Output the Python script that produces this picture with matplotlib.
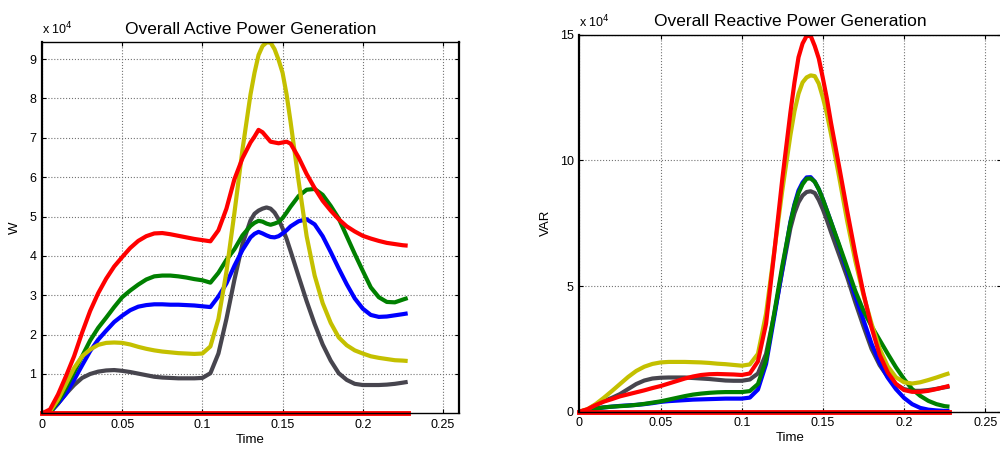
import numpy as np
import matplotlib
matplotlib.use('Agg')
import matplotlib.pyplot as plt
from matplotlib.ticker import FuncFormatter

plt.rcParams['font.family'] = ['Liberation Sans', 'DejaVu Sans']

# simulation time, s (finer around the peaks)
t = np.array([0, 0.005, 0.01, 0.015, 0.02, 0.025, 0.03, 0.035, 0.04, 0.045,
              0.05, 0.055, 0.06, 0.065, 0.07, 0.075, 0.08, 0.085, 0.09, 0.095,
              0.1, 0.105, 0.11, 0.115, 0.12, 0.125, 0.13, 0.1325, 0.135, 0.1375,
              0.14, 0.1425, 0.145, 0.1475, 0.15, 0.1525, 0.155, 0.16, 0.165, 0.17,
              0.175, 0.18, 0.185, 0.19, 0.195, 0.2, 0.205, 0.21, 0.215, 0.22,
              0.225, 0.228])

# active power per generator, x 1e4 W
p_red = [0, 0.1, 0.48, 0.95, 1.45, 2.05, 2.6, 3.05, 3.42, 3.73,
         3.97, 4.2, 4.38, 4.5, 4.57, 4.58, 4.55, 4.51, 4.47, 4.43,
         4.4, 4.37, 4.65, 5.2, 5.95, 6.48, 6.88, 7.03, 7.2, 7.14,
         7.02, 6.9, 6.88, 6.86, 6.88, 6.9, 6.85, 6.5, 6.08, 5.72,
         5.4, 5.15, 4.93, 4.75, 4.62, 4.51, 4.44, 4.38, 4.33, 4.3,
         4.27, 4.26]
p_green = [0, 0.02, 0.3, 0.65, 1.05, 1.45, 1.85, 2.17, 2.43, 2.7,
           2.95, 3.12, 3.27, 3.4, 3.48, 3.5, 3.5, 3.48, 3.45, 3.41,
           3.38, 3.32, 3.57, 3.9, 4.17, 4.52, 4.76, 4.84, 4.89, 4.87,
           4.82, 4.79, 4.82, 4.86, 4.96, 5.1, 5.25, 5.52, 5.68, 5.7,
           5.55, 5.27, 4.95, 4.5, 4.05, 3.62, 3.2, 2.95, 2.83, 2.82,
           2.89, 2.93]
p_blue = [0, 0.02, 0.25, 0.5, 0.85, 1.22, 1.58, 1.87, 2.1, 2.32,
          2.48, 2.62, 2.71, 2.75, 2.77, 2.77, 2.76, 2.76, 2.75, 2.74,
          2.72, 2.7, 2.97, 3.3, 3.75, 4.15, 4.47, 4.56, 4.61, 4.57,
          4.52, 4.48, 4.47, 4.5, 4.57, 4.65, 4.75, 4.88, 4.93, 4.8,
          4.5, 4.1, 3.68, 3.28, 2.92, 2.66, 2.5, 2.45, 2.46, 2.49,
          2.52, 2.54]
p_yellow = [0, 0.05, 0.35, 0.75, 1.15, 1.45, 1.62, 1.74, 1.79, 1.8,
            1.79, 1.75, 1.69, 1.64, 1.6, 1.57, 1.55, 1.53, 1.52, 1.51,
            1.52, 1.7, 2.4, 3.6, 5.1, 6.7, 8.1, 8.65, 9.1, 9.33,
            9.42, 9.42, 9.25, 8.98, 8.65, 8.1, 7.4, 5.9, 4.5, 3.5,
            2.8, 2.3, 1.93, 1.73, 1.6, 1.52, 1.45, 1.41, 1.38, 1.35,
            1.34, 1.33]
p_dark = [0, 0.03, 0.25, 0.5, 0.72, 0.9, 1.0, 1.06, 1.09, 1.1,
          1.08, 1.05, 1.01, 0.97, 0.93, 0.91, 0.9, 0.89, 0.89, 0.89,
          0.9, 1.02, 1.52, 2.4, 3.4, 4.3, 4.9, 5.07, 5.15, 5.2,
          5.23, 5.2, 5.1, 4.93, 4.7, 4.43, 4.12, 3.48, 2.85, 2.27,
          1.75, 1.34, 1.02, 0.85, 0.75, 0.72, 0.72, 0.72, 0.73, 0.75,
          0.78, 0.8]

# reactive power per generator, x 1e4 VAR
q_red = [0, 0.1, 0.26, 0.4, 0.5, 0.61, 0.69, 0.77, 0.85, 0.94,
         1.02, 1.12, 1.22, 1.32, 1.4, 1.46, 1.49, 1.5, 1.49, 1.48,
         1.46, 1.52, 2.0, 3.5, 6.3, 9.25, 11.9, 13.1, 14.1, 14.65,
         14.95, 14.95, 14.55, 14.05, 13.27, 12.45, 11.5, 9.76, 7.98, 6.28,
         4.72, 3.35, 2.26, 1.56, 1.11, 0.86, 0.79, 0.79, 0.83, 0.9,
         0.98, 1.03]
q_green = [0, 0.05, 0.13, 0.17, 0.2, 0.22, 0.24, 0.27, 0.31, 0.36,
           0.41, 0.48, 0.55, 0.62, 0.68, 0.72, 0.75, 0.77, 0.78, 0.78,
           0.78, 0.82, 1.1, 2.05, 3.9, 5.8, 7.5, 8.2, 8.7, 9.05,
           9.27, 9.28, 9.15, 8.85, 8.45, 8.0, 7.55, 6.65, 5.73, 4.8,
           4.02, 3.4, 2.85, 2.3, 1.77, 1.3, 0.9, 0.63, 0.43, 0.3,
           0.22, 0.2]
q_blue = [0, 0.05, 0.12, 0.17, 0.2, 0.23, 0.25, 0.27, 0.3, 0.34,
          0.39, 0.42, 0.44, 0.46, 0.48, 0.49, 0.5, 0.51, 0.52, 0.52,
          0.52, 0.56, 0.88, 1.9, 3.75, 5.65, 7.55, 8.25, 8.8, 9.12,
          9.32, 9.33, 9.15, 8.85, 8.45, 8.0, 7.55, 6.6, 5.6, 4.6,
          3.65, 2.7, 1.95, 1.35, 0.9, 0.55, 0.3, 0.15, 0.08, 0.05,
          0.03, 0.03]
q_yellow = [0, 0.1, 0.3, 0.55, 0.82, 1.1, 1.38, 1.62, 1.79, 1.9,
            1.96, 1.98, 1.98, 1.98, 1.97, 1.96, 1.94, 1.91, 1.89, 1.86,
            1.83, 1.88, 2.3, 3.9, 6.35, 8.8, 11.0, 11.95, 12.65, 13.1,
            13.3, 13.38, 13.35, 13.05, 12.5, 11.85, 11.05, 9.35, 7.58, 6.0,
            4.65, 3.5, 2.5, 1.8, 1.37, 1.17, 1.12, 1.17, 1.26, 1.36,
            1.47, 1.53]
q_dark = [0, 0.08, 0.27, 0.42, 0.55, 0.7, 0.9, 1.1, 1.24, 1.32,
          1.35, 1.36, 1.36, 1.36, 1.34, 1.32, 1.3, 1.27, 1.24, 1.23,
          1.23, 1.28, 1.52, 2.3, 3.85, 5.6, 7.3, 7.9, 8.33, 8.6,
          8.74, 8.77, 8.7, 8.42, 8.05, 7.62, 7.15, 6.25, 5.35, 4.35,
          3.4, 2.5, 1.85, 1.38, 1.08, 0.9, 0.83, 0.83, 0.86, 0.91,
          0.97, 1.0]

# idle unit, zero output
zero = np.zeros_like(t)

colors = ['#47454E', '#0000FF', '#008000', '#C4C000', '#FF0000']
scale = 1e4

xticks = [0, 0.05, 0.1, 0.15, 0.2, 0.25]


def setup(ax, title, ylabel, yticks, ytop):
    ax.set_xlim(0, 0.26)
    ax.set_ylim(0, ytop)
    ax.set_xticks(xticks)
    ax.set_yticks(yticks)
    ax.xaxis.set_major_formatter(FuncFormatter(lambda v, p: '%g' % round(v, 3)))
    ax.yaxis.set_major_formatter(FuncFormatter(lambda v, p: '%g' % (v / scale)))
    ax.tick_params(direction='in', length=3, width=0.8, labelsize=9,
                   top=True, right=True, pad=4)
    ax.grid(True, linestyle=':', color='0.45', linewidth=0.8)
    for side in ['left', 'right']:
        ax.spines[side].set_linewidth(1.6)
    for side in ['top', 'bottom']:
        ax.spines[side].set_linewidth(1.0)
    ax.set_title(title, fontsize=12.5, pad=6)
    ax.set_xlabel('Time', fontsize=9.5, labelpad=2)
    ax.set_ylabel(ylabel, fontsize=9.5, labelpad=6)
    ax.text(0, 1.012, r'x 10$^{4}$', transform=ax.transAxes, fontsize=9,
            ha='left', va='bottom')


fig = plt.figure(figsize=(10, 4.55), dpi=100)
ax1 = fig.add_axes([0.042, 0.0915, 0.417, 0.816])
ax2 = fig.add_axes([0.5794, 0.0952, 0.422, 0.8286])

for ys, c in zip([p_dark, p_blue, p_green, p_yellow, p_red], colors):
    ax1.plot(t, np.array(ys) * scale, color=c, lw=3, solid_capstyle='butt')
ax1.plot(t, zero, color='#FF0000', lw=3.5, clip_on=False)
setup(ax1, 'Overall Active Power Generation', 'W',
      np.arange(1, 10) * scale, 9.43 * scale)

for ys, c in zip([q_dark, q_blue, q_green, q_yellow, q_red], colors):
    ax2.plot(t, np.array(ys) * scale, color=c, lw=3, solid_capstyle='butt')
ax2.plot(t, zero, color='#FF0000', lw=3.5, clip_on=False)
setup(ax2, 'Overall Reactive Power Generation', 'VAR',
      np.array([0, 5, 10, 15]) * scale, 15 * scale)

fig.savefig('out.png', dpi=100)
